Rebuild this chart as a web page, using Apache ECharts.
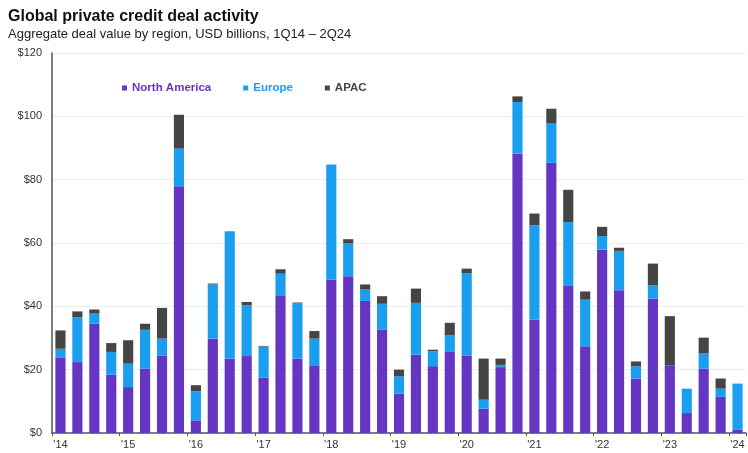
<!DOCTYPE html>
<html>
<head>
<meta charset="utf-8">
<script src="https://cdn.jsdelivr.net/npm/echarts@6/dist/echarts.min.js"></script>
<style>
  html, body { margin: 0; padding: 0; background: #ffffff; }
  #chart { width: 748px; height: 453px; }
</style>
</head>
<body>
<div id="chart"></div>
<script>
// Quarterly deal value by region, USD billions
const quarters = [];
for (let y = 14; y <= 24; y++) {
  for (let q = 1; q <= 4; q++) {
    if (y === 24 && q > 1) break;
    quarters.push(q + 'Q' + y);
  }
}

const northAmerica = [23.7, 22.4, 34.5, 18.4, 14.5, 20.3, 24.5, 77.9, 4.0, 29.8, 23.5, 24.3, 17.5, 43.5,
  23.5, 21.4, 48.4, 49.5, 41.7, 32.6, 12.4, 24.7, 21.1, 25.6, 24.5, 7.7, 20.8, 88.2, 35.8, 85.3, 46.4,
  27.4, 57.9, 45.1, 17.2, 42.4, 21.4, 6.3, 20.3, 11.4, 1.0];
const europe = [2.9, 14.2, 3.2, 7.2, 7.4, 12.3, 5.3, 11.9, 9.2, 17.1, 40.2, 16.0, 9.8, 6.8,
  17.4, 8.4, 36.4, 10.5, 3.6, 8.2, 5.5, 16.4, 4.7, 5.2, 26.0, 2.8, 0.7, 16.3, 29.8, 12.4, 20.2,
  14.7, 4.3, 12.4, 3.9, 4.2, 0, 7.7, 4.8, 2.6, 14.6];
const apac = [5.8, 1.8, 1.3, 2.8, 7.4, 1.9, 9.7, 10.7, 1.9, 0.3, 0, 1.1, 0.2, 1.4,
  0.3, 2.4, 0, 1.2, 1.6, 2.4, 2.1, 4.5, 0.5, 4.0, 1.4, 13.0, 2.0, 1.8, 3.7, 4.7, 10.2,
  2.6, 2.9, 1.0, 1.5, 6.9, 15.5, 0, 5.0, 3.2, 0];

const yTicks = [0, 20, 40, 60, 80, 100, 120];

const COLORS = { na: '#6536c4', eu: '#1a9ff0', apac: '#454545' };
const FONT = '"Liberation Sans", Arial, sans-serif';

const chart = echarts.init(document.getElementById('chart'), null, { renderer: 'canvas' });

chart.setOption({
  backgroundColor: '#ffffff',
  animation: false,
  textStyle: { fontFamily: FONT },
  title: {
    text: 'Global private credit deal activity',
    subtext: 'Aggregate deal value by region, USD billions, 1Q14 \u2013 2Q24',
    left: 3,
    top: 3,
    itemGap: 2,
    textStyle: { fontFamily: FONT, fontSize: 16, lineHeight: 17, fontWeight: 'bold', color: '#111111' },
    subtextStyle: { fontFamily: FONT, fontSize: 13, lineHeight: 15, color: '#222222' }
  },
  legend: {
    left: 117,
    top: 77,
    icon: 'rect',
    itemWidth: 5,
    itemHeight: 5,
    itemGap: 32,
    textStyle: { fontFamily: FONT, fontSize: 11.5, fontWeight: 'bold' },
    data: [
      { name: 'North America', textStyle: { color: COLORS.na } },
      { name: 'Europe', textStyle: { color: COLORS.eu } },
      { name: 'APAC', textStyle: { color: COLORS.apac } }
    ]
  },
  grid: { left: 52, right: 2, top: 53, bottom: 20, containLabel: false },
  xAxis: {
    type: 'category',
    data: quarters,
    boundaryGap: true,
    axisLine: { lineStyle: { color: '#555555', width: 1.5 } },
    axisTick: { show: true, interval: 3, length: 3, lineStyle: { color: '#555555' } },
    axisLabel: {
      interval: 3,
      margin: 6,
      fontSize: 11,
      color: '#333333',
      fontFamily: FONT,
      formatter: v => "'" + v.slice(2)
    }
  },
  yAxis: {
    type: 'value',
    min: yTicks[0],
    max: yTicks[yTicks.length - 1],
    interval: 20,
    axisLine: { show: true, lineStyle: { color: '#555555', width: 1.5 } },
    axisTick: { show: false },
    splitLine: { show: true, lineStyle: { color: '#ececec', width: 1 } },
    axisLabel: {
      margin: 10,
      fontSize: 11,
      color: '#333333',
      fontFamily: FONT,
      formatter: v => '$' + v
    }
  },
  series: [
    { name: 'North America', type: 'bar', stack: 'deals', data: northAmerica,
      barWidth: '60%', itemStyle: { color: COLORS.na } },
    { name: 'Europe', type: 'bar', stack: 'deals', data: europe,
      barWidth: '60%', itemStyle: { color: COLORS.eu } },
    { name: 'APAC', type: 'bar', stack: 'deals', data: apac,
      barWidth: '60%', itemStyle: { color: COLORS.apac } }
  ]
});
</script>
</body>
</html>
